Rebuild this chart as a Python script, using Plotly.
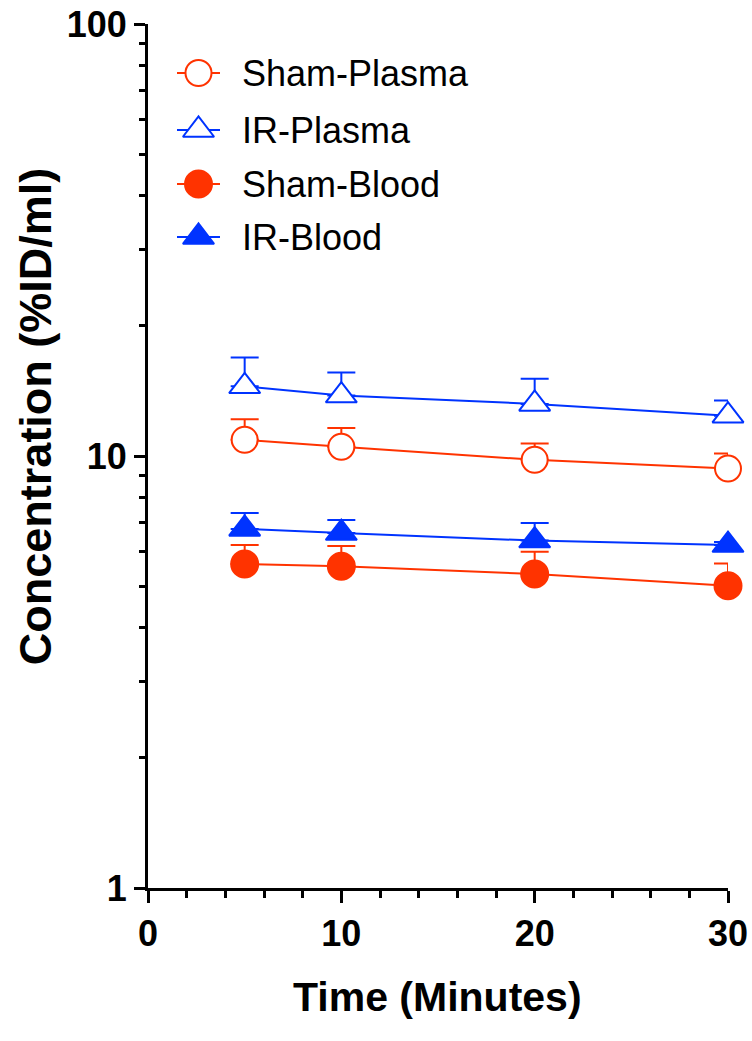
import plotly.graph_objects as go

# ---- data ----
time_min = [5, 10, 20, 30]
sham_plasma = [10.9, 10.5, 9.8, 9.35]
sham_plasma_err = [1.26, 1.11, 0.89, 0.78]
ir_plasma = [14.5, 13.8, 13.2, 12.4]
ir_plasma_err = [2.4, 1.8, 1.9, 1.05]
sham_blood = [5.62, 5.56, 5.33, 5.01]
sham_blood_err = [0.6, 0.63, 0.67, 0.63]
ir_blood = [6.78, 6.63, 6.37, 6.22]
ir_blood_err = [0.6, 0.48, 0.63, 0.1]

series_names = ["Sham-Plasma", "IR-Plasma", "Sham-Blood", "IR-Blood"]
x_ticks = [0, 10, 20, 30]
y_ticks = [1, 10, 100]
y_ticktext = ["1", "10", "100"]
x_title = "Time (Minutes)"
y_title = "Concentration (%ID/ml)"

RED = "#FF3300"
BLUE = "#0033FF"
FONT = "Liberation Sans, Arial, sans-serif"

styles = [
    dict(color=RED, symbol="circle", fill="white", size=26),
    dict(color=BLUE, symbol="triangle-up", fill="white", size=27),
    dict(color=RED, symbol="circle", fill=RED, size=27),
    dict(color=BLUE, symbol="triangle-up", fill=BLUE, size=27),
]
values = [sham_plasma, ir_plasma, sham_blood, ir_blood]
errors = [sham_plasma_err, ir_plasma_err, sham_blood_err, ir_blood_err]

fig = go.Figure()
for name, vals, errs, st in zip(series_names, values, errors, styles):
    fig.add_trace(go.Scatter(
        x=time_min, y=vals, name=name, mode="lines+markers",
        line=dict(color=st["color"], width=2),
        marker=dict(symbol=st["symbol"], size=st["size"], color=st["fill"],
                    line=dict(color=st["color"], width=2)),
        error_y=dict(type="data", symmetric=False, array=errs,
                     arrayminus=[0] * len(errs), color=st["color"],
                     thickness=2, width=14),
        cliponaxis=False, showlegend=False,
    ))

# ---- custom legend on an auxiliary pixel-scaled axis pair ----
legend_rows_y = [73, 130, 184, 237]
legend_line_x = [177, 220]
legend_marker_x = 198.5
legend_text_x = 240
for name, st, ly in zip(series_names, styles, legend_rows_y):
    fig.add_trace(go.Scatter(
        x=legend_line_x, y=[ly, ly], mode="lines", xaxis="x2", yaxis="y2",
        line=dict(color=st["color"], width=2), showlegend=False,
        hoverinfo="skip", cliponaxis=False,
    ))
    fig.add_trace(go.Scatter(
        x=[legend_marker_x], y=[ly], mode="markers", xaxis="x2", yaxis="y2",
        marker=dict(symbol=st["symbol"], size=st["size"], color=st["fill"],
                    line=dict(color=st["color"], width=2)),
        showlegend=False, hoverinfo="skip", cliponaxis=False,
    ))
    fig.add_annotation(x=legend_text_x, y=ly, xref="x2", yref="y2", text=name,
                       showarrow=False, xanchor="left", yanchor="middle",
                       font=dict(family=FONT, size=36, color="black"))

# ---- axis titles ----
fig.add_annotation(x=-0.195, y=0.546, xref="paper", yref="paper", text=y_title,
                   textangle=-90, showarrow=False, xanchor="center", yanchor="middle",
                   font=dict(family=FONT, size=45, weight="bold", color="black"))
fig.add_annotation(x=0.499, y=-0.1262, xref="paper", yref="paper", text=x_title,
                   showarrow=False, xanchor="center", yanchor="middle",
                   font=dict(family=FONT, size=41, weight="bold", color="black"))

fig.update_layout(
    width=752, height=1041,
    margin=dict(l=148, r=24, t=24, b=153, autoexpand=False),
    paper_bgcolor="white", plot_bgcolor="white",
    showlegend=False,
    font=dict(family=FONT, color="black"),
    xaxis=dict(
        range=[0, 30], tickvals=x_ticks, ticks="outside", ticklen=12, tickwidth=3,
        tickcolor="black", showline=True, linewidth=3, linecolor="black",
        showgrid=False, zeroline=False, automargin=False, ticklabeloverflow="allow",
        tickfont=dict(family=FONT, size=36, weight="bold", color="black"),
        minor=dict(tickvals=[2, 4, 6, 8, 12, 14, 16, 18, 22, 24, 26, 28],
                   ticks="outside", ticklen=7, tickwidth=3, tickcolor="black",
                   showgrid=False),
    ),
    yaxis=dict(
        type="log", range=[0, 2], tickvals=y_ticks, ticktext=y_ticktext,
        ticks="outside", ticklen=11, tickwidth=3, tickcolor="black",
        showline=True, linewidth=3, linecolor="black",
        showgrid=False, zeroline=False, automargin=False, ticklabeloverflow="allow",
        tickfont=dict(family=FONT, size=36, weight="bold", color="black"),
        minor=dict(tickvals=[2, 3, 4, 5, 6, 7, 8, 9, 20, 30, 40, 50, 60, 70, 80, 90],
                   ticks="outside", ticklen=6, tickwidth=3, tickcolor="black",
                   showgrid=False),
    ),
    xaxis2=dict(overlaying="x", anchor="y2", range=[148, 728], visible=False,
                automargin=False),
    yaxis2=dict(overlaying="y", anchor="x2", range=[888, 24], visible=False,
                automargin=False),
)

# remove the browser's default 8px body margin so the figure fills the window
fig.write_html("out.html",
               config={"displayModeBar": False},
               post_script="document.body.style.margin='0';document.body.style.padding='0';")
